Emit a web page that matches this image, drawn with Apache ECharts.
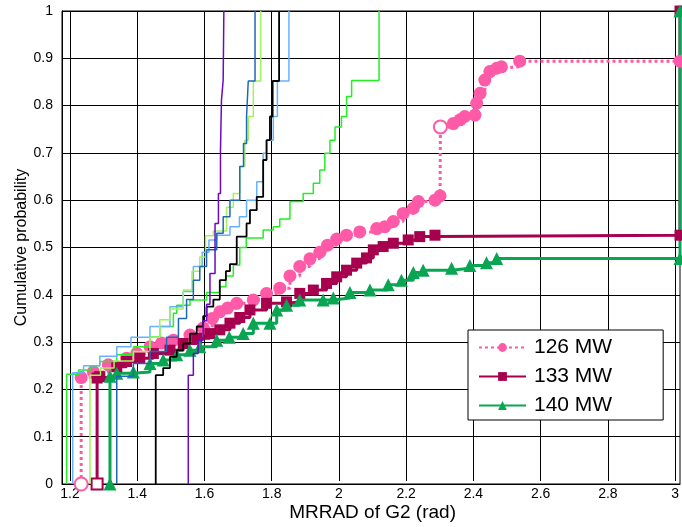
<!DOCTYPE html>
<html>
<head>
<meta charset="utf-8">
<script src="https://cdn.jsdelivr.net/npm/echarts@6/dist/echarts.min.js"></script>
<style>
html, body { margin: 0; padding: 0; background: #fff; }
#chart { width: 682px; height: 527px; }
</style>
</head>
<body>
<div id="chart"></div>
<script>
// thick series (in legend)
const mw126 = [[1.233,0],[1.233,0.225],[1.269,0.237],[1.313,0.252],[1.367,0.266],[1.397,0.276],[1.436,0.29],[1.47,0.298],[1.505,0.304],[1.554,0.315],[1.593,0.33],[1.62,0.35],[1.642,0.364],[1.665,0.372],[1.692,0.382],[1.741,0.389],[1.78,0.403],[1.819,0.414],[1.849,0.44],[1.878,0.46],[1.908,0.476],[1.937,0.49],[1.96,0.505],[1.987,0.518],[2.016,0.526],[2.055,0.533],[2.105,0.54],[2.129,0.544],[2.154,0.555],[2.183,0.572],[2.213,0.583],[2.228,0.597],[2.277,0.6],[2.292,0.609],[2.293,0.755],[2.331,0.762],[2.351,0.77],[2.365,0.777],[2.395,0.78],[2.4,0.805],[2.41,0.826],[2.424,0.854],[2.439,0.872],[2.459,0.879],[2.473,0.882],[2.527,0.894],[3,0.894]];
const mw133 = [[1.28,0],[1.28,0.224],[1.288,0.227],[1.338,0.248],[1.367,0.259],[1.406,0.266],[1.446,0.276],[1.495,0.283],[1.534,0.297],[1.574,0.308],[1.613,0.318],[1.642,0.326],[1.672,0.34],[1.701,0.352],[1.731,0.368],[1.78,0.382],[1.839,0.385],[1.878,0.403],[1.918,0.41],[1.957,0.424],[1.987,0.438],[2.016,0.452],[2.046,0.467],[2.075,0.478],[2.095,0.495],[2.124,0.502],[2.154,0.509],[2.198,0.516],[2.232,0.523],[2.277,0.526],[3,0.526],[3,1]];
const mw140 = [[1.318,0],[1.318,0.228],[1.338,0.234],[1.387,0.237],[1.436,0.255],[1.475,0.262],[1.515,0.273],[1.554,0.283],[1.583,0.29],[1.633,0.304],[1.67,0.31],[1.711,0.318],[1.741,0.34],[1.79,0.34],[1.81,0.368],[1.839,0.378],[1.878,0.389],[1.947,0.389],[1.977,0.393],[2.026,0.405],[2.085,0.41],[2.139,0.421],[2.178,0.431],[2.213,0.447],[2.242,0.452],[2.326,0.456],[2.38,0.462],[2.429,0.468],[2.459,0.477],[3,0.477],[3,1]];

// thin series (not in legend)
const limeLine = [[1.19,0],[1.19,0.232],[1.225,0.241],[1.26,0.25],[1.288,0.259],[1.338,0.273],[1.387,0.29],[1.436,0.311],[1.465,0.333],[1.505,0.361],[1.515,0.378],[1.554,0.389],[1.603,0.405],[1.642,0.417],[1.66,0.44],[1.682,0.463],[1.701,0.5],[1.72,0.52],[1.77,0.537],[1.8,0.544],[1.819,0.56],[1.849,0.597],[1.888,0.614],[1.918,0.636],[1.937,0.664],[1.952,0.699],[1.967,0.727],[1.982,0.755],[2.001,0.777],[2.016,0.819],[2.031,0.853],[2.112,1]];
const skyLine = [[1.208,0],[1.208,0.235],[1.24,0.25],[1.288,0.27],[1.338,0.29],[1.38,0.31],[1.436,0.333],[1.495,0.375],[1.534,0.407],[1.564,0.46],[1.59,0.49],[1.61,0.516],[1.633,0.526],[1.672,0.544],[1.7,0.565],[1.721,0.6],[1.751,0.639],[1.77,0.699],[1.78,0.727],[1.8,0.777],[1.812,0.852],[1.846,1]];
const paleGreenLine = [[1.259,0],[1.259,0.23],[1.29,0.245],[1.33,0.26],[1.387,0.28],[1.436,0.31],[1.465,0.347],[1.495,0.37],[1.534,0.41],[1.56,0.45],[1.583,0.48],[1.6,0.525],[1.623,0.535],[1.662,0.585],[1.682,0.614],[1.701,0.671],[1.716,0.727],[1.726,0.777],[1.741,0.852],[1.763,1]];
const blueLine = [[1.338,0],[1.338,0.228],[1.387,0.255],[1.436,0.28],[1.485,0.31],[1.52,0.35],[1.544,0.39],[1.564,0.431],[1.583,0.46],[1.603,0.495],[1.633,0.53],[1.652,0.565],[1.672,0.6],[1.701,0.671],[1.712,0.72],[1.721,0.777],[1.726,0.852],[1.746,1]];
const blackLine = [[1.453,0],[1.453,0.23],[1.475,0.245],[1.495,0.269],[1.515,0.283],[1.534,0.297],[1.554,0.318],[1.574,0.333],[1.593,0.355],[1.603,0.375],[1.623,0.39],[1.642,0.431],[1.66,0.45],[1.672,0.465],[1.692,0.523],[1.721,0.551],[1.731,0.579],[1.751,0.607],[1.77,0.685],[1.78,0.727],[1.79,0.777],[1.798,0.852],[1.817,1]];
const purpleLine = [[1.549,0],[1.549,0.23],[1.564,0.276],[1.578,0.304],[1.593,0.345],[1.603,0.38],[1.613,0.445],[1.628,0.551],[1.638,0.614],[1.644,0.706],[1.647,0.812],[1.652,0.854],[1.654,1]];

const font = 'Liberation Sans, Arial, sans-serif';

// some markers are drawn hollow in the original
function withHollow(points, idx, color) {
  return points.map((p, i) => idx.indexOf(i) >= 0
    ? { value: p, itemStyle: { color: '#fff', borderColor: color, borderWidth: 2 } }
    : p);
}

function thin(data, color, width) {
  return {
    type: 'line', xAxisIndex: 0, yAxisIndex: 0, step: 'end',
    symbol: 'none', silent: true, z: 3,
    lineStyle: { color: color, width: width || 1.5 },
    data: data
  };
}

const chart = echarts.init(document.getElementById('chart'));
chart.setOption({
  animation: false,
  backgroundColor: '#fff',
  grid: [
    { left: 62, right: 2, top: 11, bottom: 43, show: true, borderColor: '#000', borderWidth: 1, backgroundColor: 'transparent' },
    { left: 70, right: 2, top: 11, bottom: 43 }
  ],
  xAxis: [
    {
      gridIndex: 0, type: 'value', min: 1.1764, max: 3,
      axisLine: { show: true, lineStyle: { color: '#000' } },
      axisTick: { show: false }, axisLabel: { show: false }, splitLine: { show: false }
    },
    {
      gridIndex: 1, type: 'value', min: 1.2, max: 3, interval: 0.2,
      name: 'MRRAD of G2 (rad)', nameLocation: 'middle', nameGap: 22, nameMoveOverlap: false,
      nameTextStyle: { fontFamily: font, fontSize: 19, color: '#000' },
      axisLine: { show: false },
      axisTick: { show: false },
      axisLabel: {
        color: '#000', fontFamily: font, fontSize: 14, margin: 6,
        showMinLabel: true, showMaxLabel: true,
        formatter: v => String(+v.toFixed(1))
      },
      splitLine: { show: true, lineStyle: { color: '#000', width: 1 } }
    }
  ],
  yAxis: [
    {
      gridIndex: 0, type: 'value', min: 0, max: 1, interval: 0.1,
      name: 'Cumulative probability', nameLocation: 'middle', nameGap: 32, nameMoveOverlap: false,
      nameTextStyle: { fontFamily: font, fontSize: 16, color: '#000' },
      axisLine: { show: true, lineStyle: { color: '#000' } },
      axisTick: { show: false },
      axisLabel: { color: '#000', fontFamily: font, fontSize: 14, margin: 9 },
      splitLine: { show: true, lineStyle: { color: '#000', width: 1 } }
    },
    { gridIndex: 1, type: 'value', min: 0, max: 1, show: false }
  ],
  legend: {
    data: ['126 MW', '133 MW', '140 MW'],
    orient: 'vertical', left: 468, top: 330,
    padding: [7, 51, 4, 10], itemGap: 8,
    itemWidth: 47, itemHeight: 11,
    backgroundColor: '#fff', borderColor: '#000', borderWidth: 1,
    textStyle: { fontFamily: font, fontSize: 21, color: '#000', padding: [0, 0, 0, 3] }
  },
  series: [
    {
      name: '126 MW', type: 'line', xAxisIndex: 0, yAxisIndex: 0, step: 'end', clip: false, z: 2,
      symbol: 'circle', symbolSize: 13,
      itemStyle: { color: '#ff5aa8' },
      lineStyle: { color: '#ff5aa8', width: 3, type: [3, 3] },
      data: withHollow(mw126, [0, 34], '#ff5aa8')
    },
    {
      name: '133 MW', type: 'line', xAxisIndex: 0, yAxisIndex: 0, step: 'end', clip: false, z: 2,
      symbol: 'rect', symbolSize: 11,
      itemStyle: { color: '#a6004f' },
      lineStyle: { color: '#a6004f', width: 3 },
      data: withHollow(mw133, [0], '#a6004f')
    },
    {
      name: '140 MW', type: 'line', xAxisIndex: 0, yAxisIndex: 0, step: 'end', clip: false, z: 2,
      symbol: 'triangle', symbolSize: 13,
      itemStyle: { color: '#0aa552' },
      lineStyle: { color: '#0aa552', width: 3 },
      data: mw140
    },
    thin(limeLine, '#22f022'),
    thin(skyLine, '#66b2ff'),
    thin(paleGreenLine, '#a2f25e'),
    thin(blueLine, '#1f68b8'),
    thin(blackLine, '#000000', 1.8),
    thin(purpleLine, '#6a0ac8')
  ]
});
</script>
</body>
</html>
